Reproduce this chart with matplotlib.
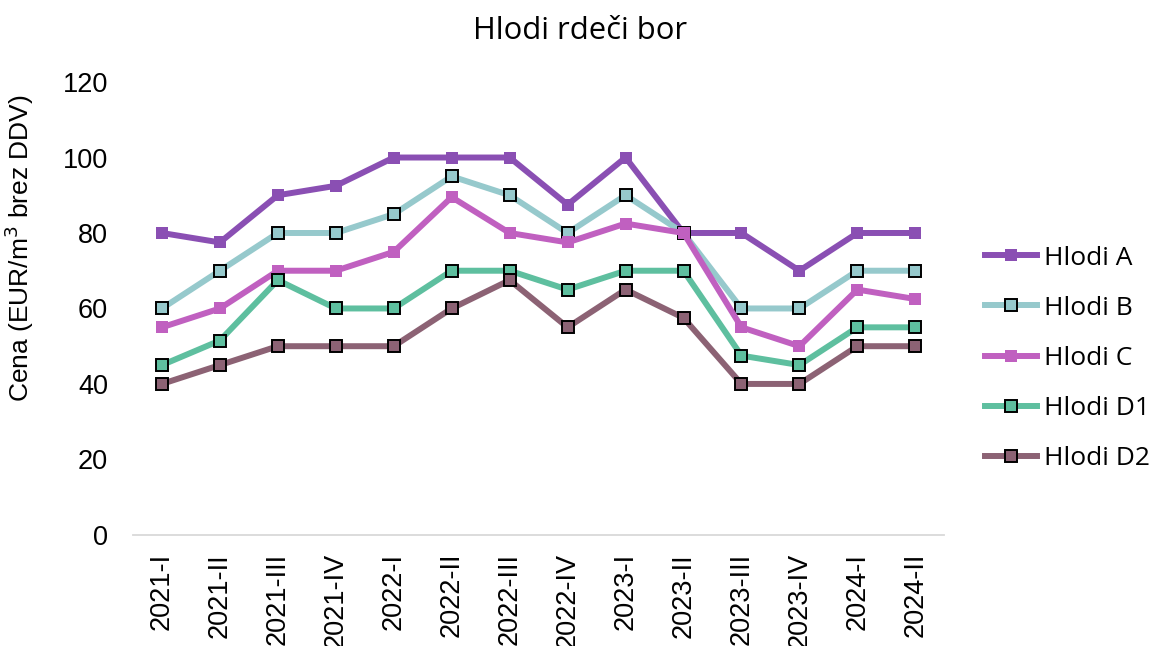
import matplotlib
matplotlib.use("Agg")
from matplotlib import pyplot as plt
import numpy as np

periods = ["2021-I", "2021-II", "2021-III", "2021-IV", "2022-I", "2022-II", "2022-III",
           "2022-IV", "2023-I", "2023-II", "2023-III", "2023-IV", "2024-I", "2024-II"]

hlodi_a = [80, 77.5, 90, 92.5, 100, 100, 100, 87.5, 100, 80, 80, 70, 80, 80]
hlodi_b = [60, 70, 80, 80, 85, 95, 90, 80, 90, 80, 60, 60, 70, 70]
hlodi_c = [55, 60, 70, 70, 75, 89.5, 80, 77.5, 82.5, 80, 55, 50, 65, 62.5]
hlodi_d1 = [45, 51.5, 67.5, 60, 60, 70, 70, 65, 70, 70, 47.5, 45, 55, 55]
hlodi_d2 = [40, 45, 50, 50, 50, 60, 67.5, 55, 65, 57.5, 40, 40, 50, 50]

series = [
    ("Hlodi A", hlodi_a, "#8a4fb3", False),
    ("Hlodi B", hlodi_b, "#96c9cc", True),
    ("Hlodi C", hlodi_c, "#c060c0", False),
    ("Hlodi D1", hlodi_d1, "#5ebf9f", True),
    ("Hlodi D2", hlodi_d2, "#8c6274", True),
]

plt.rcParams['font.family'] = ['Liberation Sans', 'DejaVu Sans']

fig = plt.figure(figsize=(11.53, 6.46), dpi=100)
ax = fig.add_axes([0.1153, 0.172, 0.7037, 0.701])

x = np.arange(len(periods))
for name, vals, col, edged in series:
    if edged:
        ax.plot(x, vals, color=col, lw=4.3, marker='s', markersize=8,
                markerfacecolor=col, markeredgecolor='black', markeredgewidth=1.4,
                label=name)
    else:
        ax.plot(x, vals, color=col, lw=4.3, marker='s', markersize=8.5,
                markerfacecolor=col, markeredgecolor=col, markeredgewidth=0,
                label=name)

ax.set_xlim(-0.5, len(periods) - 0.5)
ax.set_ylim(0, 120)
ax.set_yticks(range(0, 121, 20))
ax.set_xticks(x)
ax.set_xticklabels(periods, rotation=90, fontsize=19.5)
ax.tick_params(axis='y', labelsize=19.5, length=0, pad=18)
ax.tick_params(axis='x', length=0, pad=13)

for s in ['top', 'right', 'left']:
    ax.spines[s].set_visible(False)
ax.spines['bottom'].set_color('#d9d9d9')
ax.spines['bottom'].set_linewidth(1.3)

ax.set_ylabel("Cena (EUR/m$^3$ brez DDV)", fontsize=19)
ax.yaxis.set_label_coords(-0.12, 0.634)

fig.text(0.503, 0.952, "Hlodi rdeči bor", ha='center', va='center',
         family=['Open Sans', 'DejaVu Sans'], fontsize=22.3)

leg = ax.legend(loc='center left', bbox_to_anchor=(1.021, 0.39), frameon=False,
                handlelength=1.95, labelspacing=0.95, handletextpad=0.3,
                prop={'family': ['Open Sans', 'DejaVu Sans'], 'size': 19})

fig.savefig("out.png", dpi=100)
